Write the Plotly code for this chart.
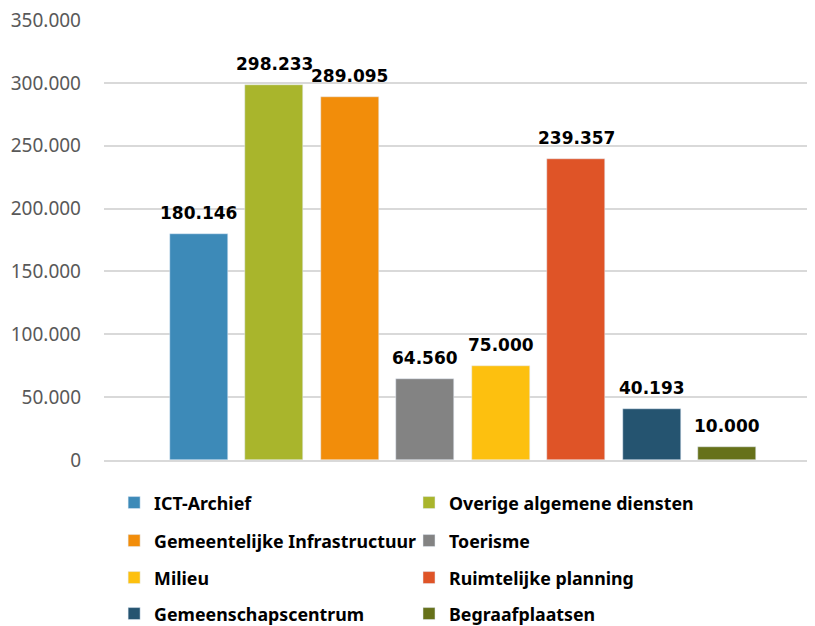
import plotly.graph_objects as go

categories = [
    "ICT-Archief",
    "Overige algemene diensten",
    "Gemeentelijke Infrastructuur",
    "Toerisme",
    "Milieu",
    "Ruimtelijke planning",
    "Gemeenschapscentrum",
    "Begraafplaatsen",
]
values = [180146, 298233, 289095, 64560, 75000, 239357, 40193, 10000]
colors = [
    "#3d8ab8",
    "#a9b52c",
    "#f28d0a",
    "#838383",
    "#fdc00f",
    "#df5427",
    "#255470",
    "#66711a",
]
y_ticks = [0, 50000, 100000, 150000, 200000, 250000, 300000, 350000]

# page body adds an 8px offset, so the figure is 8px smaller than the window
rows_y = [495, 533, 570, 606]
cols_x = [0.0143, 0.4308]
plot_top, plot_bottom = 12, 452


def paper_y(py):
    return (plot_bottom - py) / (plot_bottom - plot_top)


fig = go.Figure()

legend_layout = {}
for i, (name, val, col) in enumerate(zip(categories, values, colors)):
    # each entry gets its own legend so the 2-column grid can be placed exactly
    lid = "legend" if i == 0 else f"legend{i + 1}"
    fig.add_trace(
        go.Bar(
            x=[i],
            y=[val],
            name=name,
            marker_color=col,
            width=0.77,
            legend=lid,
        )
    )
    legend_layout[lid] = dict(
        orientation="h",
        x=cols_x[i % 2],
        y=paper_y(rows_y[i // 2]),
        xanchor="left",
        yanchor="middle",
        font=dict(family="Noto Sans", size=17.8, color="black", weight="bold"),
        itemwidth=30,
        bgcolor="rgba(0,0,0,0)",
    )
    # data label a bit higher above the bar than textposition="outside" allows
    fig.add_annotation(
        x=i,
        y=val,
        text=f"{val:,}".replace(",", "."),
        showarrow=False,
        yanchor="bottom",
        yshift=9,
        font=dict(family="DejaVu Sans", size=17, color="black", weight="bold"),
    )

fig.update_layout(
    width=807,
    height=618,
    margin=dict(l=96, r=3, t=12, b=166, autoexpand=False),
    plot_bgcolor="white",
    paper_bgcolor="white",
    separators=",.",
    showlegend=True,
    bargap=0,
    **legend_layout,
    xaxis=dict(
        range=[-1.255, 8.12],
        showticklabels=False,
        showgrid=False,
        zeroline=False,
        showline=True,
        linecolor="#d9d9d9",
        linewidth=1.5,
        ticks="",
        automargin=False,
    ),
    yaxis=dict(
        range=[0, 350000],
        tickvals=y_ticks,
        tickformat=",d",
        showgrid=True,
        gridcolor="#d9d9d9",
        gridwidth=1.5,
        zeroline=False,
        showline=False,
        ticks="",
        ticklabelstandoff=22,
        ticklabeloverflow="allow",
        automargin=False,
        tickfont=dict(family="Noto Sans", size=19, color="#595959"),
    ),
)

fig.write_html("out.html")
